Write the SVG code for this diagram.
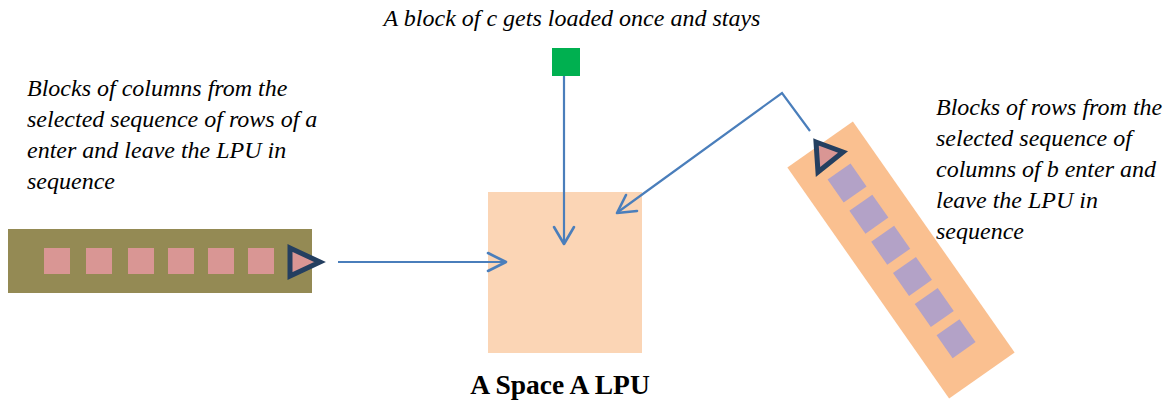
<svg xmlns="http://www.w3.org/2000/svg" width="1168" height="402" viewBox="0 0 1168 402">
<style>
.lbl{font-family:"Liberation Serif","Times New Roman",serif;font-size:24px;font-style:italic;fill:#000}
.ttl{font-family:"Liberation Serif","Times New Roman",serif;font-size:27.5px;font-weight:bold;fill:#000}
.conn{fill:none;stroke:#4A7EBB;stroke-width:2.2}
.head{fill:none;stroke:#4A7EBB;stroke-width:2.6;stroke-linecap:round;stroke-linejoin:round}
.pk{fill:#D99694}
.pu{fill:#B3A2C7}
.tri{fill:#D99694;stroke:#243F60;stroke-width:5;stroke-linejoin:miter}
</style>
<rect width="1168" height="402" fill="#FFFFFF"/>

<g id="text-top"><text class="lbl" x="572" y="26" text-anchor="middle">A block of c gets loaded once and stays</text></g>

<g id="text-left">
<text class="lbl" x="27" y="96">Blocks of columns from the</text>
<text class="lbl" x="27" y="127">selected sequence of rows of a</text>
<text class="lbl" x="27" y="158">enter and leave the LPU in</text>
<text class="lbl" x="27" y="189">sequence</text>
</g>

<g id="text-right">
<text class="lbl" x="936" y="115">Blocks of rows from the</text>
<text class="lbl" x="936" y="146">selected sequence of</text>
<text class="lbl" x="936" y="177">columns of b enter and</text>
<text class="lbl" x="936" y="208">leave the LPU in</text>
<text class="lbl" x="936" y="239">sequence</text>
</g>

<g id="lpu">
<rect x="488" y="192" width="154" height="161" fill="#FBD5B5"/>
<text class="ttl" x="560" y="394" text-anchor="middle">A Space A LPU</text>
</g>

<g id="c-block"><rect x="552" y="48" width="28" height="28" fill="#00B050"/></g>

<g id="a-stream">
<rect x="8" y="229" width="304" height="64" fill="#948A54"/>
<rect class="pk" x="44" y="248" width="26" height="26"/>
<rect class="pk" x="86" y="248" width="26" height="26"/>
<rect class="pk" x="128" y="248" width="26" height="26"/>
<rect class="pk" x="168" y="248" width="26" height="26"/>
<rect class="pk" x="208" y="248" width="26" height="26"/>
<rect class="pk" x="248" y="248" width="26" height="26"/>
<polygon class="tri" points="290,248 320,262 290,276"/>
</g>

<g id="b-stream">
<g transform="translate(901,260) rotate(55)">
<rect x="-141" y="-40" width="282" height="80" fill="#FAC090"/>
<rect class="pu" x="-108" y="-14" width="28" height="28"/>
<rect class="pu" x="-70" y="-14" width="28" height="28"/>
<rect class="pu" x="-32" y="-14" width="28" height="28"/>
<rect class="pu" x="6" y="-14" width="28" height="28"/>
<rect class="pu" x="44" y="-14" width="28" height="28"/>
<rect class="pu" x="82" y="-14" width="28" height="28"/>
</g>
<polygon class="tri" points="816,142 843,152 818,172"/>
</g>

<g id="connectors">
<line class="conn" x1="338" y1="262" x2="505" y2="262"/>
<polyline class="head" points="488,253 506,262 488,271"/>
<line class="conn" x1="564" y1="76" x2="564" y2="243"/>
<polyline class="head" points="554,227 564,244 574,227"/>
<polyline class="conn" points="810,131 782,93 618,212"/>
<polyline class="head" points="626,195 617,213 637,211"/>
</g>
</svg>
